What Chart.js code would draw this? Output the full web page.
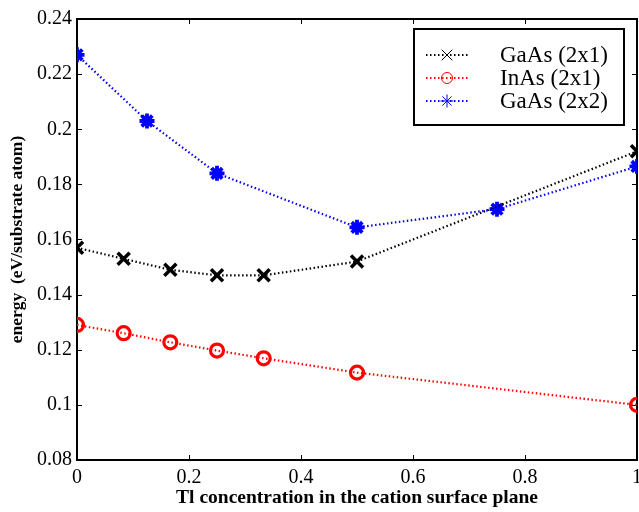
<!DOCTYPE html>
<html><head><meta charset="utf-8">
<script src="https://cdn.jsdelivr.net/npm/chart.js@4.4.0/dist/chart.umd.min.js"></script>
<style>html,body{margin:0;padding:0;background:#fff;}#wrap{width:639px;height:512px;position:relative;}</style>
</head><body><div id="wrap"><canvas id="c" width="639" height="512"></canvas></div>
<script>
// ---- data ----
const xGaAs2x1 = [0, 1/12, 1/6, 0.25, 1/3, 0.5, 1];
const yGaAs2x1 = [0.157, 0.153, 0.149, 0.147, 0.147, 0.152, 0.192];
const xInAs2x1 = [0, 1/12, 1/6, 0.25, 1/3, 0.5, 1];
const yInAs2x1 = [0.129, 0.126, 0.1227, 0.1197, 0.1169, 0.1117, 0.100];
const xGaAs2x2 = [0, 0.125, 0.25, 0.5, 0.75, 1];
const yGaAs2x2 = [0.227, 0.203, 0.184, 0.1644, 0.171, 0.1865];
const seriesLabels = ['GaAs (2x1)', 'InAs (2x1)', 'GaAs (2x2)'];
const xTickValues = [0, 0.2, 0.4, 0.6, 0.8, 1];
const yTickValues = [0.08, 0.1, 0.12, 0.14, 0.16, 0.18, 0.2, 0.22, 0.24];
const xTitle = 'Tl concentration in the cation surface plane';
const yTitle = 'energy  (eV/substrate atom)';

const SERIF = "'Liberation Serif', 'Times New Roman', serif";
const fmt = v => String(+Number(v).toFixed(2));
const pts = (xs, ys) => xs.map((x, i) => ({x: x, y: ys[i]}));

function mkSet(label, xs, ys, color, style, radius, lw) {
  return {
    label: label, data: pts(xs, ys),
    borderColor: color, borderWidth: 2.2, borderDash: [1.5, 2.5],
    pointStyle: style, pointRadius: radius, pointBorderWidth: lw,
    pointBorderColor: color, pointBackgroundColor: 'rgba(0,0,0,0)',
    pointHoverRadius: radius, tension: 0, fill: false
  };
}

function drawMarker(ctx, style, x, y, r) {
  ctx.beginPath();
  if (style === 'circle') {
    ctx.arc(x, y, r, 0, Math.PI * 2);
  } else {
    const d = r * Math.SQRT1_2;
    if (style === 'star') {
      ctx.moveTo(x - r, y); ctx.lineTo(x + r, y);
      ctx.moveTo(x, y - r); ctx.lineTo(x, y + r);
    }
    ctx.moveTo(x - d, y - d); ctx.lineTo(x + d, y + d);
    ctx.moveTo(x - d, y + d); ctx.lineTo(x + d, y - d);
  }
  ctx.stroke();
}

const framePlugin = {
  id: 'frame',
  beforeDatasetsDraw(chart) {
    const {ctx, chartArea: a, scales} = chart;
    ctx.save();
    ctx.strokeStyle = '#000';
    ctx.lineWidth = 1;
    const tl = 5;
    ctx.beginPath();
    xTickValues.forEach(v => {
      const px = Math.round(scales.x.getPixelForValue(v)) + 0.5;
      ctx.moveTo(px, a.bottom); ctx.lineTo(px, a.bottom - tl);
      ctx.moveTo(px, a.top); ctx.lineTo(px, a.top + tl);
    });
    yTickValues.forEach(v => {
      const py = Math.round(scales.y.getPixelForValue(v)) + 0.5;
      ctx.moveTo(a.left, py); ctx.lineTo(a.left + tl, py);
      ctx.moveTo(a.right, py); ctx.lineTo(a.right - tl, py);
    });
    ctx.stroke();
    ctx.lineWidth = 2;
    ctx.strokeRect(a.left, a.top, a.right - a.left, a.bottom - a.top);
    ctx.restore();
  }
};

const legendPlugin = {
  id: 'boxLegend',
  afterDraw(chart) {
    const ctx = chart.ctx;
    const bx = 414, by = 29, bw = 210, bh = 96;
    ctx.save();
    ctx.fillStyle = '#fff';
    ctx.fillRect(bx, by, bw, bh);
    ctx.strokeStyle = '#000';
    ctx.lineWidth = 2;
    ctx.strokeRect(bx, by, bw, bh);
    const rowY = [55, 78, 101];
    const markR = {crossRot: 7.5, circle: 5.5, star: 6.5};
    chart.data.datasets.forEach((ds, i) => {
      const y = rowY[i];
      ctx.strokeStyle = ds.borderColor;
      ctx.lineWidth = 2;
      ctx.setLineDash(ds.borderDash);
      ctx.beginPath();
      ctx.moveTo(426, y); ctx.lineTo(468, y);
      ctx.stroke();
      ctx.setLineDash([]);
      ctx.lineWidth = 1;
      drawMarker(ctx, ds.pointStyle, 447, y, markR[ds.pointStyle]);
      ctx.fillStyle = '#000';
      ctx.font = '23px ' + SERIF;
      ctx.textAlign = 'left';
      ctx.textBaseline = 'middle';
      ctx.fillText(ds.label, 500, y + 1);
    });
    ctx.restore();
  }
};

new Chart(document.getElementById('c'), {
  type: 'line',
  data: {
    datasets: [
      mkSet(seriesLabels[0], xGaAs2x1, yGaAs2x1, '#000000', 'crossRot', 8.5, 3.5),
      mkSet(seriesLabels[1], xInAs2x1, yInAs2x1, '#ff0000', 'circle', 6.5, 3.2),
      mkSet(seriesLabels[2], xGaAs2x2, yGaAs2x2, '#0000ff', 'star', 7.5, 3.8)
    ]
  },
  options: {
    responsive: false, animation: false, devicePixelRatio: 1,
    layout: {autoPadding: false, padding: {left: 0, right: 2, top: 19, bottom: 0}},
    plugins: {legend: {display: false}, tooltip: {enabled: false}},
    scales: {
      x: {
        type: 'linear', min: 0, max: 1,
        afterBuildTicks: s => { s.ticks = xTickValues.map(v => ({value: v})); },
        afterFit: s => { s.height = 52; s.paddingLeft = 0; s.paddingRight = 0; },
        grid: {display: false, drawTicks: false},
        border: {display: false},
        ticks: {callback: fmt, color: '#000', padding: 6, maxRotation: 0, autoSkip: false,
                font: {family: SERIF, size: 20}},
        title: {display: true, text: xTitle, color: '#000', padding: {top: 0, bottom: 2},
                font: {family: SERIF, size: 19.5, weight: 'bold'}}
      },
      y: {
        type: 'linear', min: 0.08, max: 0.24,
        afterBuildTicks: s => { s.ticks = yTickValues.map(v => ({value: v})); },
        afterFit: s => { s.width = 77; s.paddingTop = 0; s.paddingBottom = 0; },
        grid: {display: false, drawTicks: false},
        border: {display: false},
        ticks: {callback: fmt, color: '#000', padding: 5, autoSkip: false,
                font: {family: SERIF, size: 20}},
        title: {display: true, text: yTitle, color: '#000', padding: {top: 7, bottom: 0},
                font: {family: SERIF, size: 17.5, weight: 'bold'}}
      }
    }
  },
  plugins: [framePlugin, legendPlugin]
});
</script></body></html>
